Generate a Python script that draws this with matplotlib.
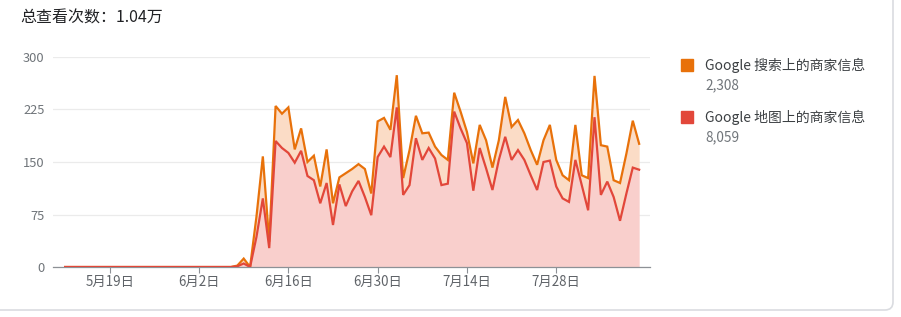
import numpy as np
import pandas as pd
import matplotlib
matplotlib.use("Agg")
import matplotlib.pyplot as plt
from matplotlib.patches import FancyBboxPatch, Rectangle

plt.rcParams['font.family'] = ['Noto Sans CJK SC', 'DejaVu Sans']

# 每日查看次数（5月12日 - 8月10日）
dates = pd.date_range('2024-05-12', '2024-08-10', freq='D')

# Google 地图上的商家信息
maps_views = [0] * 27 + [
    1, 5, 0, 43, 98, 27,
    180, 170, 163, 149, 166, 130, 124, 91, 120, 60,
    118, 87, 108, 123, 100, 74, 157, 172, 157, 228,
    103, 117, 184, 153, 170, 155, 117, 119, 222, 198,
    177, 109, 170, 141, 110, 153, 186, 153, 167, 153,
    131, 110, 150, 152, 115, 98, 93, 153, 117, 81,
    214, 103, 122, 100, 66, 105, 142, 139,
]
# Google 搜索上的商家信息
search_views = [0] * 27 + [
    1, 7, 0, 29, 60, 9,
    50, 49, 65, 19, 32, 20, 35, 24, 48, 31,
    10, 47, 32, 24, 40, 31, 51, 41, 39, 46,
    24, 50, 32, 38, 22, 17, 43, 34, 27, 24,
    16, 39, 33, 40, 32, 28, 57, 47, 43, 38,
    36, 36, 31, 51, 38, 33, 31, 50, 14, 46,
    59, 71, 50, 24, 54, 57, 67, 37,
]

tick_dates = pd.to_datetime(['2024-05-19', '2024-06-02', '2024-06-16',
                             '2024-06-30', '2024-07-14', '2024-07-28'])
tick_labels = [f"{d.month}月{d.day}日" for d in tick_dates]
y_ticks = [0, 75, 150, 225, 300]

series_names = ['Google 搜索上的商家信息', 'Google 地图上的商家信息']
series_totals = ['2,308', '8,059']
line_colors = ['#e8710a', '#e2473a']
fill_colors = ['#fbdcc6', '#f9cfcc']

maps = np.array(maps_views)
total = maps + np.array(search_views)

fig = plt.figure(figsize=(9.01, 3.17), dpi=100)
ax = fig.add_axes([53 / 901, 1 - 267 / 317, 597 / 901, 210 / 317])

ax.fill_between(dates, 0, maps, color=fill_colors[1], lw=0, zorder=1)
ax.fill_between(dates, maps, total, color=fill_colors[0], lw=0, zorder=1)
ax.plot(dates, total, color=line_colors[0], lw=1.6, zorder=3, solid_joinstyle='miter')
ax.plot(dates, maps, color=line_colors[1], lw=1.6, zorder=4, solid_joinstyle='miter')

ax.set_ylim(0, 300)
ax.set_xlim(dates[0] - pd.Timedelta(days=1.9), dates[-1] + pd.Timedelta(days=1.7))
ax.set_yticks(y_ticks)
ax.set_yticklabels([str(v) for v in y_ticks])
ax.set_xticks(tick_dates)
ax.set_xticklabels(tick_labels)

for s in ['top', 'right', 'left']:
    ax.spines[s].set_visible(False)
ax.spines['bottom'].set_color('#8d9196')
ax.spines['bottom'].set_linewidth(0.9)
ax.grid(axis='y', color='#ebebeb', lw=0.9)
ax.set_axisbelow(True)
ax.tick_params(axis='y', length=0, pad=6, labelsize=9.3, labelcolor='#70757a')
ax.tick_params(axis='x', length=4, width=0.8, color='#8d9196', pad=2,
               labelsize=9.6, labelcolor='#5f6368')

fig.text(20 / 901, 1 - 18 / 317, '总查看次数：1.04万', fontsize=11.5,
         color='#202124', va='center', ha='left')

# 图例
for k, (name, tot) in enumerate(zip(series_names, series_totals)):
    yc = 65 + 52 * k
    fig.patches.append(Rectangle((681 / 901, 1 - (yc + 6) / 317), 12 / 901, 12 / 317,
                                 transform=fig.transFigure, color=line_colors[k]))
    fig.text(705 / 901, 1 - yc / 317, name, fontsize=10, color='#3c4043',
             va='center', ha='left')
    fig.text(705 / 901, 1 - (yc + 20) / 317, tot, fontsize=9.8, color='#70757a',
             va='center', ha='left')

# 卡片边框
card = FancyBboxPatch((-20, 317 - 310), 893 + 20, 400,
                      boxstyle='round,pad=0,rounding_size=8',
                      transform=None, fc='none', ec='#dadce0', lw=1.2)
fig.patches.append(card)

fig.savefig('out.png', dpi=100)
